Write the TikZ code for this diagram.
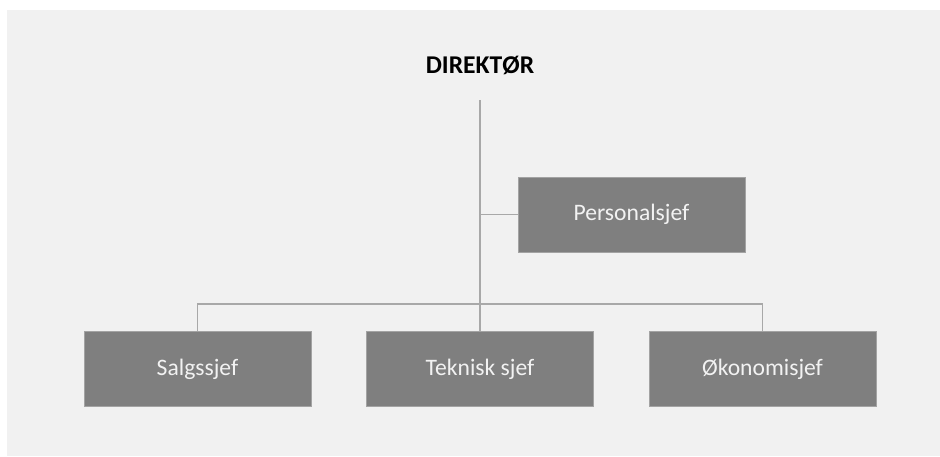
\documentclass[tikz,border=0pt]{standalone}
\usepackage{fontspec}
\setmainfont{Carlito}
\definecolor{pagebg}{HTML}{F1F1F1}
\definecolor{boxfill}{HTML}{7F7F7F}
\definecolor{boxedge}{HTML}{A3A3A3}
\definecolor{linkgray}{HTML}{A8A8A8}
\definecolor{boxtext}{HTML}{F2F2F2}
% layers: page background, then connectors, then the boxes
\pgfdeclarelayer{page}
\pgfdeclarelayer{links}
\pgfsetlayers{page,links,main}
\begin{document}
\begin{tikzpicture}[x=1pt,y=-1pt,
  unit/.style={rectangle, fill=boxfill, draw=boxedge, line width=0.8pt,
    minimum width=227pt, minimum height=75pt, inner sep=0pt,
    text=boxtext, font=\fontsize{23.6}{26}\selectfont},
  link/.style={draw=linkgray, line width=1.3pt},
  title/.style={font=\bfseries\fontsize{25.6}{28}\selectfont, text=black, inner sep=0pt}]
  \useasboundingbox (0,0) rectangle (940,456);
  \begin{pgfonlayer}{page}
    \fill[white] (0,0) rectangle (940,456);
    \fill[pagebg] (7,10) rectangle (940,456);
  \end{pgfonlayer}

  \node[title, anchor=base] (dir) at (480,73) {DIREKTØR};
  \coordinate (top) at (480,100);
  \coordinate (bus) at (480,304);

  \node[unit] (pers) at (631.5,214.5) {Personalsjef};
  \node[unit] (sal) at (197.5,369) {Salgssjef};
  \node[unit] (tek) at (480,369) {Teknisk sjef};
  \node[unit] (oko) at (762.5,369) {Økonomisjef};

  \begin{pgfonlayer}{links}
    \path[link] (top) -- (tek.north);
    \path[link] (top |- pers.west) -- (pers.west);
    \path[link] (sal.north) |- (bus) -| (oko.north);
  \end{pgfonlayer}
\end{tikzpicture}
\end{document}
